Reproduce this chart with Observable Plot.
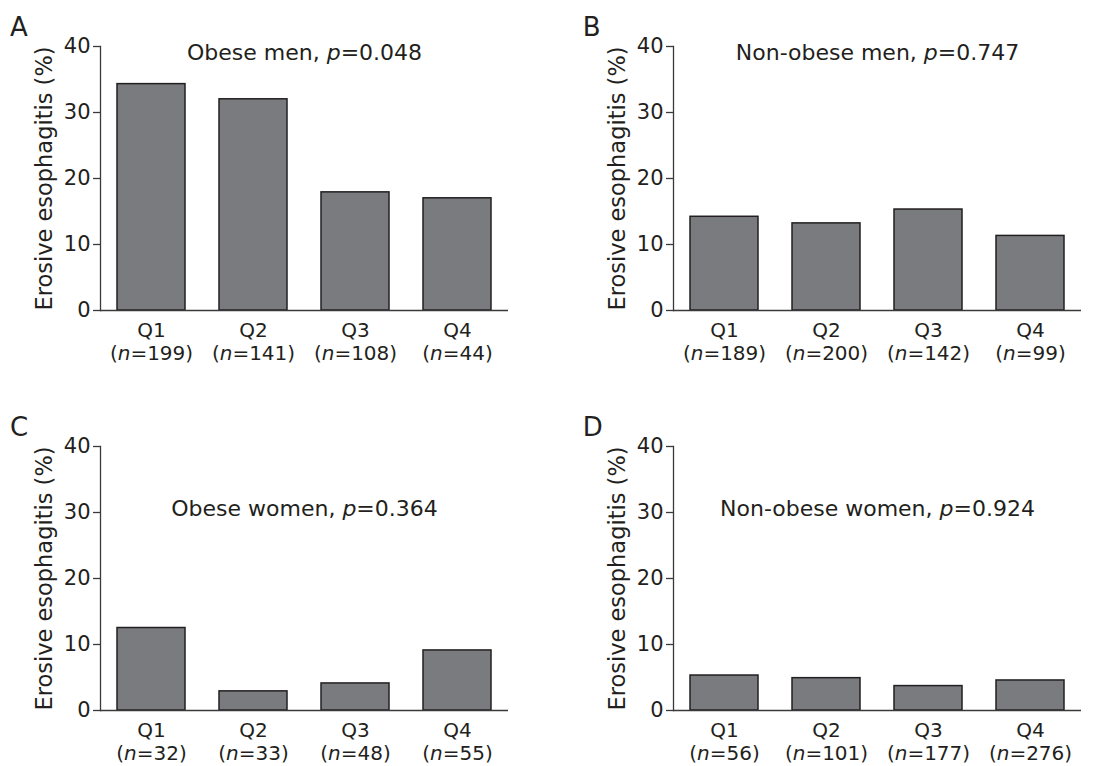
<!DOCTYPE html>
<html><head><meta charset="utf-8">
<script src="https://cdn.jsdelivr.net/npm/d3@7"></script>
<script src="https://cdn.jsdelivr.net/npm/@observablehq/plot@0.6"></script>
<style>
body{margin:0;background:#fff;}
#wrap{position:relative;width:1101px;height:766px;overflow:hidden;background:#fff;font-family:"DejaVu Sans",Verdana,sans-serif;}
.panel{position:absolute;}
.letter{position:absolute;font-size:26px;line-height:1;color:#231f20;font-family:"DejaVu Sans",sans-serif;}
</style></head><body><div id="wrap"></div>
<script>
const quartiles = ["Q1", "Q2", "Q3", "Q4"];
const panelLetters = ["A", "B", "C", "D"];
const panelTitles = ["Obese men", "Non-obese men", "Obese women", "Non-obese women"];
const pValues = ["0.048", "0.747", "0.364", "0.924"];
const nA = [199, 141, 108, 44];
const nB = [189, 200, 142, 99];
const nC = [32, 33, 48, 55];
const nD = [56, 101, 177, 276];
const pctA = [34.3, 32.0, 17.9, 17.0];
const pctB = [14.2, 13.2, 15.3, 11.3];
const pctC = [12.5, 2.9, 4.1, 9.1];
const pctD = [5.3, 4.9, 3.7, 4.55];
const yTicks = [0, 10, 20, 30, 40];
const yLabel = "Erosive esophagitis (%)";

const counts = [nA, nB, nC, nD];
const pcts = [pctA, pctB, pctC, pctD];
const layout = [
  {left: 0, top: 0, titleDy: 6},
  {left: 572.7, top: 0, titleDy: 6},
  {left: 0, top: 400, titleDy: 62},
  {left: 572.7, top: 400, titleDy: 62}
];
const ink = "#231f20";
const axisInk = "#3a3a3a";

function italicize(svg) {
  const re = /(^|[\s(])([np])=/;
  svg.querySelectorAll("text, tspan").forEach(el => {
    if (el.children.length) return;
    const t = el.textContent;
    const m = t.match(re);
    if (!m) return;
    const idx = m.index + m[1].length;
    el.textContent = "";
    el.appendChild(document.createTextNode(t.slice(0, idx)));
    const it = document.createElementNS("http://www.w3.org/2000/svg", "tspan");
    it.setAttribute("font-style", "italic");
    it.textContent = m[2];
    el.appendChild(it);
    el.appendChild(document.createTextNode(t.slice(idx + 1)));
  });
}

const wrap = document.getElementById("wrap");
panelLetters.forEach((letter, k) => {
  const data = quartiles.map((q, i) => ({q, v: pcts[k][i], n: counts[k][i]}));
  const nMap = Object.fromEntries(data.map(d => [d.q, d.n]));
  const title = `${panelTitles[k]}, p=${pValues[k]}`;
  const chart = Plot.plot({
    width: 550,
    height: 390,
    marginTop: 46,
    marginBottom: 80,
    marginLeft: 100,
    marginRight: 42,
    style: {fontFamily: "DejaVu Sans, sans-serif", fontSize: "20px", color: ink, background: "transparent", overflow: "visible"},
    x: {domain: quartiles, paddingInner: 1/3, paddingOuter: 1/6},
    y: {domain: [0, 40]},
    marks: [
      Plot.barY(data, {x: "q", y: "v", fill: "#7a7b7f", stroke: ink, strokeWidth: 1.5}),
      Plot.ruleY([0], {stroke: axisInk, strokeWidth: 1.3}),
      Plot.frame({anchor: "left", stroke: axisInk, strokeWidth: 1.3}),
      Plot.axisY({ticks: yTicks, tickSize: 7, tickPadding: 3, label: null, fontSize: 21, stroke: axisInk, strokeWidth: 1.3, fill: ink}),
      Plot.axisX({tickSize: 0, tickPadding: 11, label: null, fontSize: 20, lineHeight: 1.12, fill: ink,
        tickFormat: d => `${d}\n(n=${nMap[d]})`}),
      Plot.text([title], {frameAnchor: "top", dy: layout[k].titleDy, text: d => d, fontSize: 22, lineAnchor: "middle", fill: ink}),
      Plot.text([yLabel], {frameAnchor: "left", dx: -55.5, rotate: -90, text: d => d, fontSize: 22.5, textAnchor: "middle", lineAnchor: "middle", fill: ink})
    ]
  });
  italicize(chart);
  chart.classList.add("panel");
  chart.style.left = layout[k].left + "px";
  chart.style.top = layout[k].top + "px";
  chart.style.position = "absolute";
  wrap.appendChild(chart);
  const lab = document.createElement("div");
  lab.className = "letter";
  lab.textContent = letter;
  lab.style.left = (layout[k].left + 10) + "px";
  lab.style.top = (layout[k].top + 14) + "px";
  wrap.appendChild(lab);
});
</script>
</body></html>
